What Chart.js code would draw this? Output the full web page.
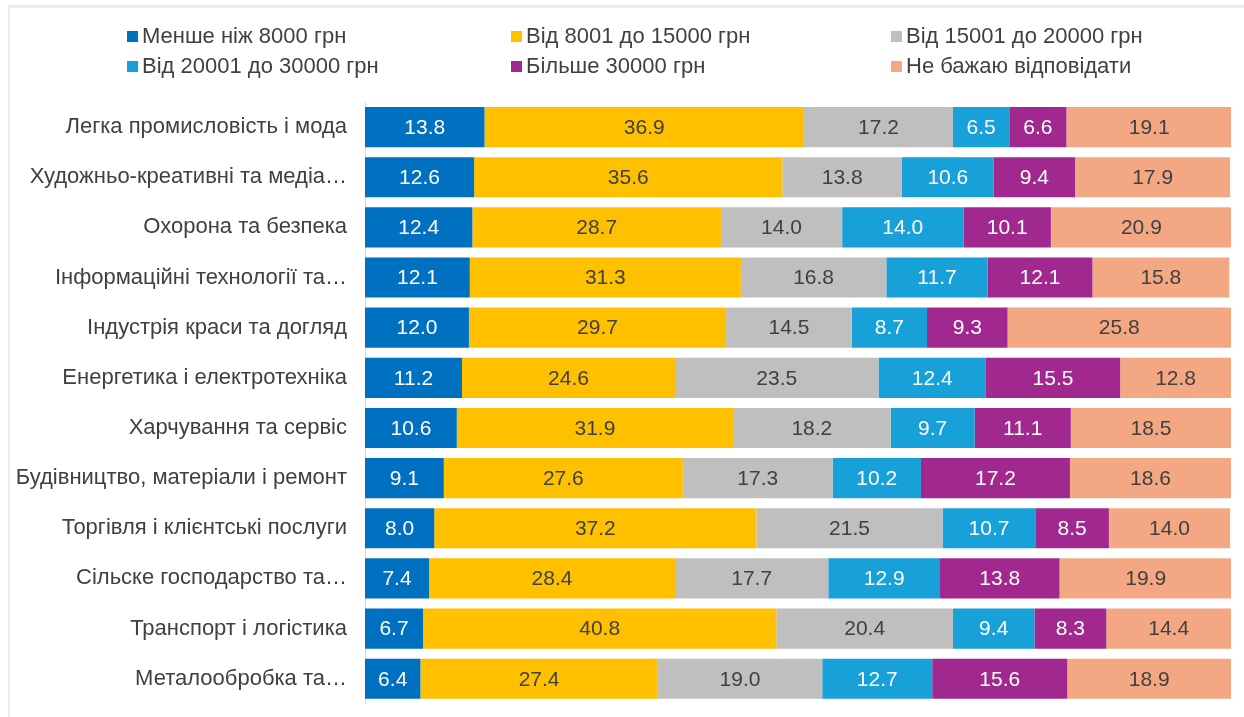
<!DOCTYPE html>
<html>
<head>
<meta charset="utf-8">
<script src="https://cdn.jsdelivr.net/npm/chart.js@4"></script>
<style>
  body { margin: 0; background: #fff; font-family: "Liberation Sans", Arial, sans-serif; }
  #wrap { position: relative; width: 1244px; height: 717px; overflow: hidden; }
  #frame { position: absolute; left: 8px; top: 5px; width: 1236px; height: 712px;
           border-top: 3px solid #ececec; border-left: 2px solid #ececec; box-sizing: border-box; }
  canvas { position: absolute; left: 0; top: 0; }
  .leg { position: absolute; font-size: 22px; color: #404040; white-space: nowrap; line-height: 24px; }
  .leg span { display: inline-block; width: 11px; height: 11px; margin-right: 4px; vertical-align: 1px; }
</style>
</head>
<body>
<div id="wrap">
  <div id="frame"></div>
  <canvas id="barChart" width="1244" height="735"></canvas>
</div>
<script>
const categories = [
  "Легка промисловість і мода",
  "Художньо-креативні та медіа…",
  "Охорона та безпека",
  "Інформаційні технології та…",
  "Індустрія краси та догляд",
  "Енергетика і електротехніка",
  "Харчування та сервіс",
  "Будівництво, матеріали і ремонт",
  "Торгівля і клієнтські послуги",
  "Сільске господарство та…",
  "Транспорт і логістика",
  "Металообробка та…"
];

const seriesNames = [
  "Менше ніж 8000 грн",
  "Від 8001 до 15000 грн",
  "Від 15001 до 20000 грн",
  "Від 20001 до 30000 грн",
  "Більше 30000 грн",
  "Не бажаю відповідати"
];

const under8000 = [13.8, 12.6, 12.4, 12.1, 12.0, 11.2, 10.6, 9.1, 8.0, 7.4, 6.7, 6.4];
const from8001 = [36.9, 35.6, 28.7, 31.3, 29.7, 24.6, 31.9, 27.6, 37.2, 28.4, 40.8, 27.4];
const from15001 = [17.2, 13.8, 14.0, 16.8, 14.5, 23.5, 18.2, 17.3, 21.5, 17.7, 20.4, 19.0];
const from20001 = [6.5, 10.6, 14.0, 11.7, 8.7, 12.4, 9.7, 10.2, 10.7, 12.9, 9.4, 12.7];
const over30000 = [6.6, 9.4, 10.1, 12.1, 9.3, 15.5, 11.1, 17.2, 8.5, 13.8, 8.3, 15.6];
const noAnswer = [19.1, 17.9, 20.9, 15.8, 25.8, 12.8, 18.5, 18.6, 14.0, 19.9, 14.4, 18.9];

const colors = ["#0070C0", "#FFC000", "#BFBFBF", "#18A0D8", "#A1288F", "#F3A883"];
const labelColors = ["#fff", "#404040", "#404040", "#fff", "#fff", "#404040"];
const allValues = [under8000, from8001, from15001, from20001, over30000, noAnswer];

// legend in two rows of three columns, like the original
const legendPos = [[127, 24], [511, 24], [891, 24], [127, 54], [511, 54], [891, 54]];
seriesNames.forEach((name, i) => {
  const el = document.createElement("div");
  el.className = "leg";
  el.style.left = legendPos[i][0] + "px";
  el.style.top = legendPos[i][1] + "px";
  el.innerHTML = '<span style="background:' + colors[i] + '"></span>' + name;
  document.getElementById("wrap").appendChild(el);
});

const valueLabels = {
  id: "valueLabels",
  afterDatasetsDraw(chart) {
    const ctx = chart.ctx;
    ctx.save();
    ctx.font = "21px 'Liberation Sans', Arial, sans-serif";
    ctx.textAlign = "center";
    ctx.textBaseline = "middle";
    chart.data.datasets.forEach((ds, i) => {
      chart.getDatasetMeta(i).data.forEach((bar, j) => {
        ctx.fillStyle = labelColors[i];
        ctx.fillText(ds.data[j].toFixed(1), (bar.x + bar.base) / 2, bar.y + 1);
      });
    });
    ctx.restore();
  }
};

const ctx = document.getElementById("barChart");
const myChart = new Chart(ctx, {
  type: "bar",
  data: {
    labels: categories,
    datasets: seriesNames.map((name, i) => ({
      label: name,
      data: allValues[i],
      backgroundColor: colors[i],
      borderWidth: 0,
      barPercentage: 0.8,
      categoryPercentage: 1.0
    }))
  },
  options: {
    indexAxis: "y",
    responsive: false,
    animation: false,
    layout: { padding: { left: 0, top: 102, right: 13, bottom: 12 } },
    plugins: { legend: { display: false }, tooltip: { enabled: false } },
    scales: {
      x: { stacked: true, min: 0, max: 100, display: false },
      y: {
        stacked: true,
        grid: { display: false, drawTicks: false },
        border: { display: true, color: "#D9D9D9", width: 1 },
        ticks: {
          color: "#404040",
          padding: 18,
          font: { size: 22, family: "'Liberation Sans', Arial, sans-serif" }
        },
        afterFit(scale) { scale.width = 365; }
      }
    }
  },
  plugins: [valueLabels]
});
</script>
</body>
</html>
